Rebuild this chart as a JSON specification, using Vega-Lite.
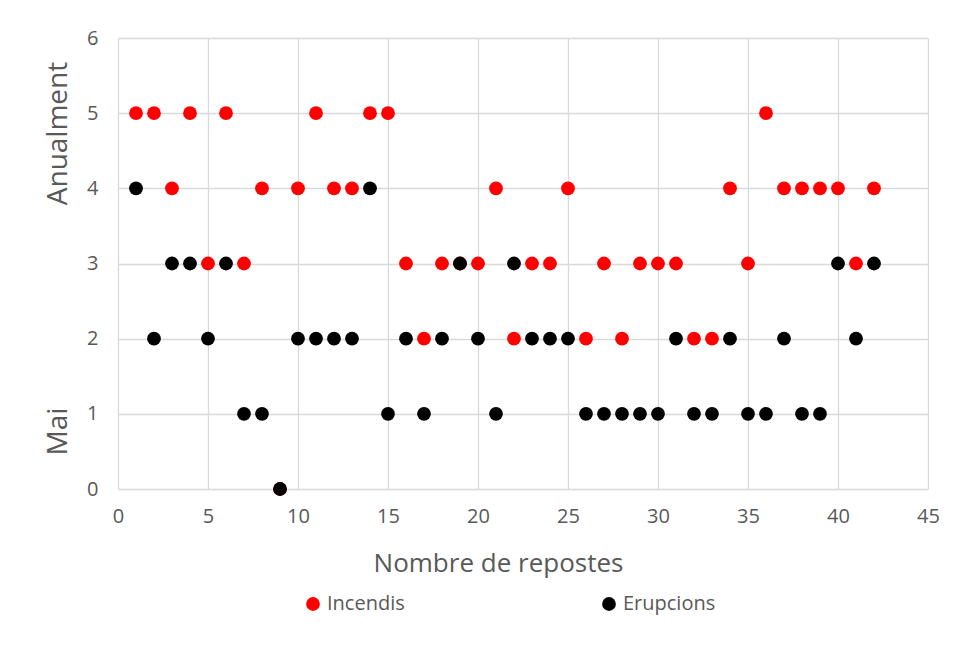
{
  "$schema": "https://vega.github.io/schema/vega-lite/v6.json",
  "width": 810,
  "height": 451,
  "autosize": {"type": "none"},
  "padding": {"left": 118, "top": 38, "right": 27, "bottom": 173},
  "background": "white",
  "config": {
    "view": {"stroke": null},
    "font": "Open Sans",
    "axis": {
      "labelFont": "Open Sans",
      "titleFont": "Open Sans",
      "labelColor": "#595959",
      "titleColor": "#595959",
      "labelFontSize": 20,
      "titleFontSize": 26,
      "titleFontWeight": "normal",
      "gridColor": "#D9D9D9",
      "gridWidth": 1.3,
      "domain": false,
      "ticks": false,
      "labelFlush": false
    }
  },
  "data": {
    "values": [
      {"x": 1, "Incendis": 5, "Erupcions": 4},
      {"x": 2, "Incendis": 5, "Erupcions": 2},
      {"x": 3, "Incendis": 4, "Erupcions": 3},
      {"x": 4, "Incendis": 5, "Erupcions": 3},
      {"x": 5, "Incendis": 3, "Erupcions": 2},
      {"x": 6, "Incendis": 5, "Erupcions": 3},
      {"x": 7, "Incendis": 3, "Erupcions": 1},
      {"x": 8, "Incendis": 4, "Erupcions": 1},
      {"x": 9, "Incendis": 0, "Erupcions": 0},
      {"x": 10, "Incendis": 4, "Erupcions": 2},
      {"x": 11, "Incendis": 5, "Erupcions": 2},
      {"x": 12, "Incendis": 4, "Erupcions": 2},
      {"x": 13, "Incendis": 4, "Erupcions": 2},
      {"x": 14, "Incendis": 5, "Erupcions": 4},
      {"x": 15, "Incendis": 5, "Erupcions": 1},
      {"x": 16, "Incendis": 3, "Erupcions": 2},
      {"x": 17, "Incendis": 2, "Erupcions": 1},
      {"x": 18, "Incendis": 3, "Erupcions": 2},
      {"x": 19, "Incendis": 3, "Erupcions": 3},
      {"x": 20, "Incendis": 3, "Erupcions": 2},
      {"x": 21, "Incendis": 4, "Erupcions": 1},
      {"x": 22, "Incendis": 2, "Erupcions": 3},
      {"x": 23, "Incendis": 3, "Erupcions": 2},
      {"x": 24, "Incendis": 3, "Erupcions": 2},
      {"x": 25, "Incendis": 4, "Erupcions": 2},
      {"x": 26, "Incendis": 2, "Erupcions": 1},
      {"x": 27, "Incendis": 3, "Erupcions": 1},
      {"x": 28, "Incendis": 2, "Erupcions": 1},
      {"x": 29, "Incendis": 3, "Erupcions": 1},
      {"x": 30, "Incendis": 3, "Erupcions": 1},
      {"x": 31, "Incendis": 3, "Erupcions": 2},
      {"x": 32, "Incendis": 2, "Erupcions": 1},
      {"x": 33, "Incendis": 2, "Erupcions": 1},
      {"x": 34, "Incendis": 4, "Erupcions": 2},
      {"x": 35, "Incendis": 3, "Erupcions": 1},
      {"x": 36, "Incendis": 5, "Erupcions": 1},
      {"x": 37, "Incendis": 4, "Erupcions": 2},
      {"x": 38, "Incendis": 4, "Erupcions": 1},
      {"x": 39, "Incendis": 4, "Erupcions": 1},
      {"x": 40, "Incendis": 4, "Erupcions": 3},
      {"x": 41, "Incendis": 3, "Erupcions": 2},
      {"x": 42, "Incendis": 4, "Erupcions": 3}
    ]
  },
  "transform": [
    {"fold": ["Incendis", "Erupcions"], "as": ["serie", "valor"]}
  ],
  "layer": [
    {
      "mark": {"type": "point", "filled": true, "shape": "circle", "size": 190, "opacity": 1},
      "encoding": {
        "x": {
          "field": "x", "type": "quantitative",
          "scale": {"domain": [0, 45], "nice": false},
          "axis": {
            "values": [0, 5, 10, 15, 20, 25, 30, 35, 40, 45],
            "title": "Nombre de repostes",
            "labelPadding": 17,
            "titlePadding": 24,
            "titleX": 380,
            "titleAlign": "center"
          }
        },
        "y": {
          "field": "valor", "type": "quantitative",
          "scale": {"domain": [0, 6], "nice": false},
          "axis": {
            "values": [0, 1, 2, 3, 4, 5, 6],
            "title": "Anualment",
            "labelPadding": 20,
            "titleFontSize": 28,
            "titleX": -52,
            "titleY": 95,
            "titleAngle": -90,
            "titleAlign": "center",
            "titleBaseline": "alphabetic"
          }
        },
        "color": {
          "field": "serie", "type": "nominal",
          "scale": {"domain": ["Incendis", "Erupcions"], "range": ["#FF0000", "#000000"]},
          "legend": {
            "title": null,
            "orient": "none",
            "direction": "horizontal",
            "legendX": 185,
            "legendY": 556,
            "symbolType": "circle",
            "symbolSize": 190,
            "symbolStrokeWidth": 0,
            "labelFont": "Open Sans",
            "labelFontSize": 20,
            "labelColor": "#595959",
            "columnPadding": 194,
            "labelOffset": 4
          }
        },
        "order": {"field": "serie", "sort": "descending"}
      }
    },
    {
      "mark": {"type": "point", "opacity": 0},
      "encoding": {
        "y": {
          "field": "valor", "type": "quantitative",
          "scale": {"domain": [0, 6], "nice": false},
          "axis": {
            "orient": "left",
            "title": "Mai",
            "labels": false,
            "grid": false,
            "titleFontSize": 28,
            "titleX": -52,
            "titleY": 393,
            "titleAngle": -90,
            "titleAlign": "center",
            "titleBaseline": "alphabetic"
          }
        },
        "x": {"field": "x", "type": "quantitative", "scale": {"domain": [0, 45], "nice": false}}
      }
    }
  ],
  "resolve": {"scale": {"y": "independent"}}
}
